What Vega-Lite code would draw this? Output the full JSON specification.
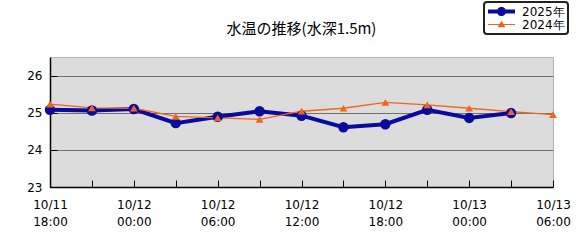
{
  "$schema": "https://vega.github.io/schema/vega-lite/v6.json",
  "autosize": "none",
  "width": 503,
  "height": 130,
  "padding": {"left": 50, "top": 57, "right": 28, "bottom": 58},
  "background": "white",
  "title": {"text": "水温の推移(水深1.5m)", "font": "Noto Sans CJK JP", "fontSize": 15, "fontWeight": "normal", "color": "black", "anchor": "middle", "frame": "group", "offset": 4, "dy": 40},
  "config": {
    "view": {"fill": "#dcdcdc", "stroke": "#b4b4b4", "strokeWidth": 1},
    "axis": {"labelFont": "DejaVu Sans", "labelFontSize": 12, "labelColor": "black", "domainColor": "black", "domainWidth": 1.5, "tickColor": "black", "title": null},
    "legend": {"orient": "none", "legendX": 434, "legendY": -55, "title": null, "direction": "vertical",
      "labelFont": "DejaVu Sans", "labelFontSize": 12, "labelColor": "black", "labelOffset": 6,
      "symbolSize": 729, "clipHeight": 13, "rowPadding": 0, "padding": 3,
      "strokeColor": "#222222", "fillColor": "white", "cornerRadius": 3, "strokeWidth": 2}
  },
  "data": {"values": [
    {"t": "2025-10-11T18:00:00", "s": "2025年", "v": 25.08},
    {"t": "2025-10-11T21:00:00", "s": "2025年", "v": 25.06},
    {"t": "2025-10-12T00:00:00", "s": "2025年", "v": 25.1},
    {"t": "2025-10-12T03:00:00", "s": "2025年", "v": 24.72},
    {"t": "2025-10-12T06:00:00", "s": "2025年", "v": 24.89},
    {"t": "2025-10-12T09:00:00", "s": "2025年", "v": 25.04},
    {"t": "2025-10-12T12:00:00", "s": "2025年", "v": 24.92},
    {"t": "2025-10-12T15:00:00", "s": "2025年", "v": 24.61},
    {"t": "2025-10-12T18:00:00", "s": "2025年", "v": 24.69},
    {"t": "2025-10-12T21:00:00", "s": "2025年", "v": 25.08},
    {"t": "2025-10-13T00:00:00", "s": "2025年", "v": 24.86},
    {"t": "2025-10-13T03:00:00", "s": "2025年", "v": 24.99},
    {"t": "2025-10-11T18:00:00", "s": "2024年", "v": 25.23},
    {"t": "2025-10-11T21:00:00", "s": "2024年", "v": 25.13},
    {"t": "2025-10-12T00:00:00", "s": "2024年", "v": 25.12},
    {"t": "2025-10-12T03:00:00", "s": "2024年", "v": 24.9},
    {"t": "2025-10-12T06:00:00", "s": "2024年", "v": 24.86},
    {"t": "2025-10-12T09:00:00", "s": "2024年", "v": 24.82},
    {"t": "2025-10-12T12:00:00", "s": "2024年", "v": 25.04},
    {"t": "2025-10-12T15:00:00", "s": "2024年", "v": 25.12},
    {"t": "2025-10-12T18:00:00", "s": "2024年", "v": 25.28},
    {"t": "2025-10-12T21:00:00", "s": "2024年", "v": 25.21},
    {"t": "2025-10-13T00:00:00", "s": "2024年", "v": 25.12},
    {"t": "2025-10-13T03:00:00", "s": "2024年", "v": 25.03},
    {"t": "2025-10-13T06:00:00", "s": "2024年", "v": 24.95}
  ]},
  "encoding": {
    "x": {"field": "t", "type": "temporal",
      "scale": {"domain": [{"year": 2025, "month": 10, "date": 11, "hours": 18}, {"year": 2025, "month": 10, "date": 13, "hours": 6}], "nice": false},
      "axis": {"values": [
          {"year": 2025, "month": 10, "date": 11, "hours": 18},
          {"year": 2025, "month": 10, "date": 11, "hours": 21},
          {"year": 2025, "month": 10, "date": 12, "hours": 0},
          {"year": 2025, "month": 10, "date": 12, "hours": 3},
          {"year": 2025, "month": 10, "date": 12, "hours": 6},
          {"year": 2025, "month": 10, "date": 12, "hours": 9},
          {"year": 2025, "month": 10, "date": 12, "hours": 12},
          {"year": 2025, "month": 10, "date": 12, "hours": 15},
          {"year": 2025, "month": 10, "date": 12, "hours": 18},
          {"year": 2025, "month": 10, "date": 12, "hours": 21},
          {"year": 2025, "month": 10, "date": 13, "hours": 0},
          {"year": 2025, "month": 10, "date": 13, "hours": 3},
          {"year": 2025, "month": 10, "date": 13, "hours": 6}
        ],
        "grid": false, "tickSize": -7, "labelPadding": 19, "labelOverlap": false, "labelFlush": false, "labelLineHeight": 17,
        "labelExpr": "hours(datum.value) % 6 == 0 ? [timeFormat(datum.value, '%m/%d'), timeFormat(datum.value, '%H:%M')] : ''"}},
    "y": {"field": "v", "type": "quantitative",
      "scale": {"domain": [23, 26.5], "nice": false, "zero": false},
      "axis": {"values": [23, 24, 25, 26], "grid": true, "gridColor": "#707070", "gridWidth": 1, "tickSize": -7, "labelPadding": 15}}
  },
  "layer": [
    {"mark": {"type": "line"},
      "encoding": {
        "color": {"field": "s", "type": "nominal", "scale": {"domain": ["2025年", "2024年"], "range": ["#0a0a9c", "#ee661e"]}, "legend": null},
        "strokeWidth": {"field": "s", "type": "nominal", "scale": {"domain": ["2025年", "2024年"], "range": [4, 1.3]}, "legend": null}}},
    {"mark": {"type": "point", "filled": true, "opacity": 1},
      "encoding": {
        "color": {"field": "s", "type": "nominal", "scale": {"domain": ["2025年", "2024年"], "range": ["#0a0a9c", "#ee661e"]}, "legend": null},
        "shape": {"field": "s", "type": "nominal", "scale": {"domain": ["2025年", "2024年"], "range": ["circle", "triangle-up"]}, "legend": null},
        "size": {"field": "s", "type": "nominal", "scale": {"domain": ["2025年", "2024年"], "range": [110, 60]}, "legend": null}}},
    {"transform": [{"filter": "datum.v < 0"}],
      "mark": {"type": "point", "filled": true, "opacity": 1},
      "encoding": {
        "color": {"field": "s", "type": "nominal", "scale": {"domain": ["2025年", "2024年"], "range": ["#0a0a9c", "#ee661e"]}},
        "shape": {"field": "s", "type": "nominal",
          "scale": {"domain": ["2025年", "2024年"], "range": [
            "M-1,-0.15H1V0.15H-1ZM0.34,0A0.34,0.34 0 1 1 -0.34,0A0.34,0.34 0 1 1 0.34,0Z",
            "M-1,-0.045H1V0.045H-1ZM0,-0.28L0.29,0.2L-0.29,0.2Z"]}}}}
  ],
  "resolve": {"scale": {"shape": "independent", "color": "independent"}}
}
